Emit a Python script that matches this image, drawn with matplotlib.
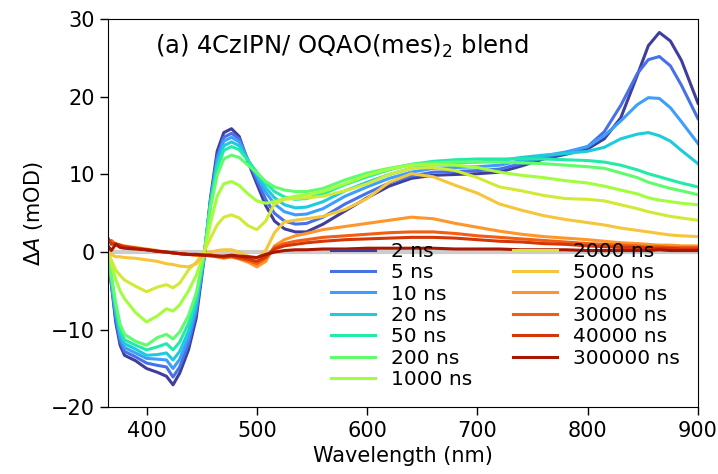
import numpy as np
import matplotlib
matplotlib.use("Agg")
import matplotlib.pyplot as plt

# 波長 (nm)
wl = [365, 368, 372, 376, 380, 390, 400, 410, 418, 424, 430, 438, 445, 452, 458, 464,
      470, 477, 484, 492, 500, 508, 516, 525, 535, 545, 560, 580, 600, 620, 640, 660,
      680, 700, 720, 740, 760, 780, 800, 815, 830, 845, 855, 865, 875, 885, 900]

labels = ["2 ns", "5 ns", "10 ns", "20 ns", "50 ns", "200 ns", "1000 ns",
          "2000 ns", "5000 ns", "20000 ns", "30000 ns", "40000 ns", "300000 ns"]

# ΔA (mOD)
d2 = [-0.5, -4.0, -9.0, -12.0, -13.3, -14.0, -15.0, -15.5, -16.0, -17.1, -15.6, -12.6, -8.5, -1.0, 7.0, 13.0,
      15.4, 15.9, 14.9, 11.6, 8.8, 6.0, 4.0, 3.0, 2.6, 2.6, 3.6, 5.3, 7.0, 8.5, 9.5, 9.9,
      10.0, 10.1, 10.3, 11.1, 12.0, 12.6, 13.3, 14.6, 17.3, 22.8, 26.6, 28.3, 27.2, 24.7, 19.2]
d5 = [-0.5, -4.0, -8.5, -11.5, -12.8, -13.5, -14.3, -14.6, -14.8, -16.1, -14.8, -11.8, -7.8, -0.8, 6.8, 12.3,
      14.8, 15.3, 14.6, 11.8, 9.3, 6.8, 5.0, 4.0, 3.6, 3.7, 4.5, 6.2, 7.6, 8.9, 9.8, 10.3,
      10.4, 10.5, 10.7, 11.4, 12.2, 12.8, 13.6, 15.5, 18.9, 23.0, 24.8, 25.2, 24.0, 21.5, 17.2]
d10 = [-0.5, -3.8, -8.0, -11.0, -12.3, -13.0, -13.7, -13.8, -13.9, -15.0, -13.8, -11.0, -7.2, -0.7, 6.6, 11.8,
       14.3, 14.8, 14.2, 11.9, 9.8, 7.7, 6.2, 5.2, 4.8, 4.9, 5.6, 7.2, 8.4, 9.5, 10.3, 10.8,
       10.9, 11.0, 11.2, 11.8, 12.4, 12.9, 13.6, 15.0, 16.9, 19.0, 19.9, 19.8, 18.6, 16.8, 14.0]
d20 = [-0.5, -3.5, -7.5, -10.5, -11.8, -12.5, -13.3, -13.2, -13.0, -13.9, -12.8, -10.2, -6.6, -0.6, 6.4, 11.3,
       13.7, 14.2, 13.7, 11.8, 10.0, 8.3, 7.0, 6.1, 5.7, 5.8, 6.5, 7.9, 9.0, 10.0, 10.8, 11.3,
       11.5, 11.6, 11.8, 12.2, 12.5, 12.7, 13.0, 13.5, 14.6, 15.2, 15.4, 15.0, 14.3, 13.1, 11.4]
d50 = [-0.5, -3.2, -7.0, -10.0, -11.3, -12.0, -12.6, -12.2, -11.8, -12.6, -11.6, -9.2, -6.0, -0.5, 6.2, 10.8,
       13.1, 13.6, 13.2, 11.8, 10.3, 8.9, 7.8, 7.1, 6.8, 6.9, 7.5, 8.7, 9.7, 10.6, 11.3, 11.7,
       11.9, 12.0, 12.0, 12.0, 12.0, 11.9, 11.8, 11.6, 11.2, 10.6, 10.1, 9.7, 9.3, 8.9, 8.4]
d200 = [-0.5, -3.0, -6.5, -9.3, -10.6, -11.5, -12.0, -11.0, -10.6, -11.2, -10.3, -8.2, -5.3, -0.4, 5.8, 9.9,
        12.0, 12.5, 12.2, 11.2, 10.2, 9.1, 8.4, 8.0, 7.8, 7.8, 8.2, 9.3, 10.2, 10.8, 11.3, 11.5,
        11.6, 11.6, 11.6, 11.5, 11.4, 11.2, 11.0, 10.8, 10.2, 9.6, 9.0, 8.6, 8.2, 7.9, 7.4]
d1000 = [0.0, -1.5, -3.5, -5.0, -6.0, -7.8, -9.0, -8.2, -7.3, -7.6, -6.8, -5.0, -3.0, -0.2, 3.8, 7.2,
         8.8, 9.1, 8.6, 7.5, 6.6, 6.3, 6.5, 6.9, 7.2, 7.4, 7.8, 8.8, 9.9, 10.7, 11.2, 11.3,
         11.2, 10.9, 10.3, 9.9, 9.6, 9.2, 8.9, 8.5, 8.0, 7.5, 7.0, 6.7, 6.5, 6.3, 6.1]
d2000 = [0.0, -1.0, -2.3, -3.0, -3.6, -4.4, -5.1, -4.5, -4.2, -4.6, -4.0, -2.3, -1.3, 0.0, 1.8, 3.5,
         4.5, 4.8, 4.4, 3.4, 2.9, 4.0, 6.2, 6.8, 6.9, 7.0, 7.2, 7.9, 8.8, 10.0, 10.8, 10.9,
         10.5, 9.6, 8.4, 7.9, 7.3, 6.9, 6.8, 6.6, 6.1, 5.6, 5.2, 4.9, 4.6, 4.4, 4.1]
d5000 = [0.3, -0.3, -0.6, -0.6, -0.7, -0.8, -1.0, -1.2, -1.5, -1.6, -1.8, -1.9, -1.5, -0.3, 0.0, 0.2,
         0.3, 0.3, 0.0, -0.5, -0.9, 0.2, 2.5, 3.9, 4.1, 4.3, 4.6, 5.5, 6.9, 9.0, 10.1, 9.7,
         8.6, 7.6, 6.2, 5.4, 4.7, 4.2, 3.8, 3.5, 3.1, 2.8, 2.6, 2.4, 2.2, 2.1, 2.0]
d20000 = [1.5, 1.2, 1.0, 0.9, 0.8, 0.6, 0.4, 0.2, 0.0, -0.1, -0.2, -0.3, -0.4, -0.4, -0.5, -0.6,
          -0.8, -0.6, -0.9, -1.3, -1.9, -1.2, 0.8, 1.6, 2.1, 2.4, 2.9, 3.3, 3.7, 4.1, 4.5, 4.3,
          3.7, 3.2, 2.7, 2.3, 2.0, 1.8, 1.6, 1.4, 1.2, 1.1, 1.0, 0.9, 0.9, 0.8, 0.8]
d30000 = [1.2, 1.5, 1.0, 0.8, 0.7, 0.5, 0.3, 0.1, 0.0, -0.1, -0.2, -0.3, -0.4, -0.4, -0.5, -0.6,
          -0.7, -0.6, -0.8, -1.1, -1.5, -0.8, 0.6, 1.1, 1.4, 1.6, 1.9, 2.1, 2.3, 2.5, 2.6, 2.6,
          2.4, 2.1, 1.9, 1.7, 1.5, 1.3, 1.1, 1.0, 0.9, 0.8, 0.7, 0.7, 0.6, 0.6, 0.6]
d40000 = [1.8, 1.0, 1.1, 0.9, 0.7, 0.5, 0.3, 0.1, 0.0, -0.1, -0.2, -0.3, -0.3, -0.4, -0.4, -0.5,
          -0.6, -0.5, -0.7, -0.9, -1.2, -0.6, 0.4, 0.8, 1.0, 1.2, 1.4, 1.6, 1.7, 1.8, 1.9, 1.9,
          1.8, 1.6, 1.4, 1.3, 1.1, 1.0, 0.8, 0.7, 0.6, 0.6, 0.5, 0.5, 0.5, 0.4, 0.4]
d300000 = [0.8, 0.2, 1.0, 0.6, 0.5, 0.4, 0.3, 0.1, 0.0, -0.1, -0.2, -0.3, -0.3, -0.4, -0.4, -0.5,
           -0.5, -0.4, -0.5, -0.6, -0.7, -0.3, 0.0, 0.2, 0.3, 0.3, 0.4, 0.4, 0.5, 0.5, 0.5, 0.5,
           0.4, 0.4, 0.4, 0.3, 0.3, 0.3, 0.2, 0.2, 0.2, 0.2, 0.2, 0.3, 0.2, 0.2, 0.2]

spectra = [d2, d5, d10, d20, d50, d200, d1000, d2000, d5000, d20000, d30000, d40000, d300000]

fig = plt.figure(figsize=(7.18, 4.74), dpi=100)
ax = fig.add_axes([0.1504, 0.1407, 0.8217, 0.8186])

ax.axhline(0, color="#cccccc", lw=3, zorder=0)
colors = plt.cm.turbo(np.linspace(0.06, 0.94, len(spectra)))
for y, c, lab in zip(spectra, colors, labels):
    ax.plot(wl, y, color=c, lw=2.2, label=lab)

ax.set_xlim(365, 900)
ax.set_ylim(-20, 30)
ax.set_xticks([400, 500, 600, 700, 800, 900])
ax.set_yticks([-20, -10, 0, 10, 20, 30])
ax.tick_params(labelsize=15, length=6, width=1)
ax.set_xlabel("Wavelength (nm)", fontsize=15)
ax.set_ylabel(r"$\Delta A$ (mOD)", fontsize=15)
ax.text(0.08, 0.93, r"(a) 4CzIPN/ OQAO(mes)$_2$ blend", transform=ax.transAxes,
        fontsize=17.5, va="center", ha="left")
ax.legend(ncol=2, frameon=False, loc="lower right", fontsize=14.5, labelspacing=0.12,
          handlelength=2.2, columnspacing=2.0, borderaxespad=0.5)

fig.savefig("out.png", dpi=100)
